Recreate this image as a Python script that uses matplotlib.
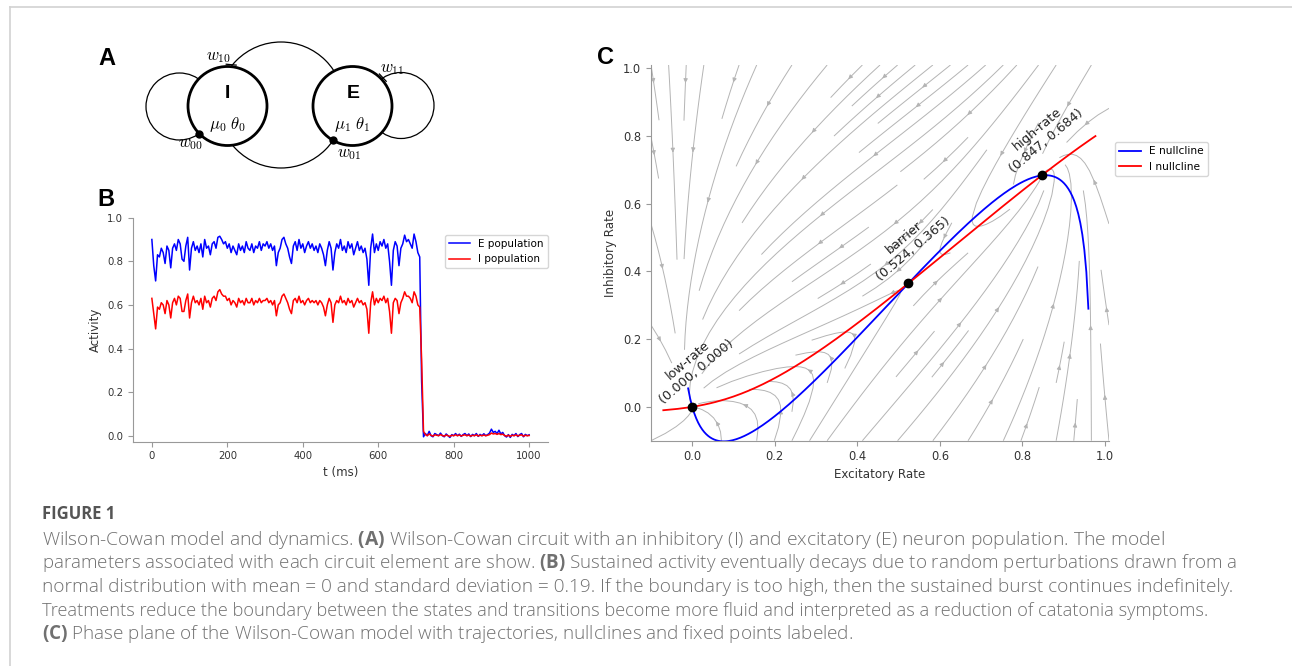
import numpy as np
import matplotlib
matplotlib.use('Agg')
import matplotlib.pyplot as plt
from matplotlib.patches import Circle
from matplotlib.lines import Line2D

W, H = 1292, 666

# ---- panel B: simulated activity (5 ms steps) ----
t_ms = np.arange(0, 1001, 5)
e_pop = [0.90, 0.78, 0.71, 0.83, 0.82, 0.86, 0.84, 0.79, 0.87, 0.85,
         0.77, 0.86, 0.88, 0.85, 0.90, 0.88, 0.81, 0.80, 0.87, 0.91,
         0.76, 0.86, 0.89, 0.85, 0.87, 0.84, 0.88, 0.82, 0.90, 0.86,
         0.87, 0.83, 0.88, 0.89, 0.86, 0.91, 0.915, 0.90, 0.88, 0.89,
         0.86, 0.88, 0.84, 0.87, 0.85, 0.83, 0.88, 0.85, 0.87, 0.84,
         0.89, 0.86, 0.85, 0.88, 0.84, 0.87, 0.86, 0.89, 0.85, 0.88,
         0.87, 0.89, 0.86, 0.88, 0.85, 0.87, 0.78, 0.84, 0.86, 0.90,
         0.91, 0.88, 0.86, 0.82, 0.79, 0.87, 0.89, 0.85, 0.90, 0.86,
         0.88, 0.84, 0.87, 0.89, 0.86, 0.88, 0.85, 0.87, 0.84, 0.88,
         0.86, 0.83, 0.78, 0.85, 0.89, 0.86, 0.76, 0.84, 0.88, 0.86,
         0.90, 0.85, 0.87, 0.84, 0.89, 0.86, 0.88, 0.83, 0.86, 0.89,
         0.85, 0.87, 0.84, 0.86, 0.81, 0.69, 0.86, 0.925, 0.84, 0.88,
         0.85, 0.89, 0.87, 0.90, 0.86, 0.88, 0.80, 0.69, 0.85, 0.89,
         0.87, 0.78, 0.86, 0.88, 0.92, 0.89, 0.90, 0.88, 0.86, 0.925,
         0.89, 0.84, 0.82,
         0.25, -0.005,
         0.010, 0.000, 0.020, 0.000, -0.005, 0.010, 0.005, 0.000, 0.012, 0.000,
         -0.005, 0.008, 0.000, -0.008, 0.005, 0.000, 0.010, 0.000, 0.007, -0.003,
         0.005, 0.010, 0.000, 0.008, -0.004, 0.006, 0.000, 0.010, -0.003, 0.006,
         0.000, 0.009, 0.000, 0.005, 0.012, 0.030, 0.015, 0.020, 0.010, 0.025,
         0.008, 0.015, 0.000, -0.006, 0.005, -0.008, 0.006, 0.000, 0.010, -0.004,
         0.005, 0.010, -0.005, 0.006, 0.000, 0.004]
i_pop = [0.63, 0.56, 0.49, 0.59, 0.58, 0.61, 0.60, 0.56, 0.62, 0.60,
         0.54, 0.61, 0.63, 0.60, 0.64, 0.63, 0.57, 0.57, 0.62, 0.65,
         0.54, 0.61, 0.64, 0.61, 0.62, 0.60, 0.63, 0.58, 0.64, 0.61,
         0.62, 0.59, 0.63, 0.64, 0.62, 0.66, 0.67, 0.65, 0.64, 0.64,
         0.62, 0.63, 0.60, 0.62, 0.61, 0.59, 0.63, 0.61, 0.62, 0.60,
         0.63, 0.61, 0.61, 0.63, 0.60, 0.62, 0.61, 0.63, 0.61, 0.62,
         0.62, 0.63, 0.61, 0.62, 0.60, 0.62, 0.55, 0.60, 0.61, 0.64,
         0.65, 0.63, 0.61, 0.58, 0.56, 0.62, 0.63, 0.61, 0.64, 0.61,
         0.62, 0.60, 0.62, 0.63, 0.61, 0.62, 0.61, 0.62, 0.60, 0.62,
         0.61, 0.59, 0.55, 0.60, 0.63, 0.61, 0.52, 0.60, 0.62, 0.61,
         0.64, 0.61, 0.62, 0.60, 0.63, 0.61, 0.62, 0.59, 0.61, 0.63,
         0.61, 0.62, 0.60, 0.61, 0.58, 0.47, 0.61, 0.66, 0.60, 0.63,
         0.61, 0.63, 0.62, 0.64, 0.61, 0.63, 0.57, 0.47, 0.61, 0.63,
         0.62, 0.56, 0.61, 0.63, 0.66, 0.64, 0.64, 0.63, 0.61, 0.66,
         0.64, 0.60, 0.59,
         0.35, 0.02,
         0.005, 0.000, 0.008, 0.002, -0.002, 0.004, 0.002, 0.000, 0.005, 0.001,
         -0.002, 0.003, 0.000, -0.003, 0.002, 0.000, 0.004, 0.000, 0.003, -0.001,
         0.002, 0.004, 0.000, 0.003, -0.002, 0.002, 0.000, 0.004, -0.001, 0.002,
         0.000, 0.003, 0.000, 0.002, 0.005, 0.012, 0.008, 0.010, 0.006, 0.010,
         0.005, 0.007, 0.001, -0.002, 0.002, -0.003, 0.002, 0.000, 0.004, -0.001,
         0.002, 0.004, -0.002, 0.002, 0.000, 0.001]

# ---- panel C: Wilson-Cowan parameters (fitted to the nullclines in the figure) ----
tau_E, a_E, theta_E = 1.0, 1.2, 2.8
tau_I, a_I, theta_I = 2.0, 1.0, 4.0
wEE, wEI, wIE, wII = 8.5, 4.0, 13.0, 9.0

fp_names = ['low-rate', 'barrier', 'high-rate']
fp_E = [0.0, 0.524, 0.847]
fp_I = [0.0, 0.365, 0.684]

caption_title = 'FIGURE 1'
caption_lines = [
    r'Wilson-Cowan model and dynamics. $\mathbf{(A)}$ Wilson-Cowan circuit with an inhibitory (I) and excitatory (E) neuron population. The model',
    r'parameters associated with each circuit element are show. $\mathbf{(B)}$ Sustained activity eventually decays due to random perturbations drawn from a',
    'normal distribution with mean = 0 and standard deviation = 0.19. If the boundary is too high, then the sustained burst continues indefinitely.',
    'Treatments reduce the boundary between the states and transitions become more fluid and interpreted as a reduction of catatonia symptoms.',
    r'$\mathbf{(C)}$ Phase plane of the Wilson-Cowan model with trajectories, nullclines and fixed points labeled.',
]


def F(x, a, theta):
    return 1 / (1 + np.exp(-a * (x - theta))) - 1 / (1 + np.exp(a * theta))


def F_inv(x, a, theta):
    return -1 / a * np.log(1 / (x + 1 / (1 + np.exp(a * theta))) - 1) + theta


def circle_cross(c1, r1, c2, r2):
    # the two intersection points of two circles
    c1, c2 = np.array(c1, float), np.array(c2, float)
    d = np.linalg.norm(c2 - c1)
    a = (d ** 2 + r1 ** 2 - r2 ** 2) / (2 * d)
    h = np.sqrt(r1 ** 2 - a ** 2)
    u = (c2 - c1) / d
    p = c1 + a * u
    n = np.array([-u[1], u[0]])
    return p + h * n, p - h * n


plt.rcParams['mathtext.fontset'] = 'custom'
plt.rcParams['mathtext.rm'] = 'Open Sans'
plt.rcParams['mathtext.bf'] = 'Open Sans:bold'
plt.rcParams['mathtext.it'] = 'Open Sans:italic'

fig = plt.figure(figsize=(W / 100, H / 100), dpi=100)

# frame lines of the page
fig.add_artist(Line2D([10 / W, 1], [1 - 7 / H, 1 - 7 / H], color='#d2d2d2', lw=1.2))
fig.add_artist(Line2D([10 / W, 10 / W], [0, 1 - 7 / H], color='#d2d2d2', lw=1.2))

# panel letters
for letter, x, y in [('A', 98, 65), ('B', 97, 206), ('C', 597, 64)]:
    fig.text(x / W, 1 - y / H, letter, fontsize=17, fontweight='bold',
             family='Liberation Sans', ha='left', va='baseline')

# ---------------- panel A: circuit diagram (pixel coordinates) ----------------
ax_a = fig.add_axes([130 / W, 1 - 180 / H, 330 / W, 150 / H])
ax_a.set_xlim(130, 460)
ax_a.set_ylim(180, 30)
ax_a.axis('off')

I_c, E_c, R = (227.5, 106), (352.5, 106), 39.5
loopI_c, loopI_r = (179.5, 106.5), 33.5
loopE_c, loopE_r = (401, 105.5), 33
arc_c, arc_r = (281, 105), 63

for c, r in [(loopI_c, loopI_r), (loopE_c, loopE_r), (arc_c, arc_r)]:
    ax_a.add_patch(Circle(c, r, fill=False, ec='black', lw=0.9, zorder=1))
for c in [I_c, E_c]:
    ax_a.add_patch(Circle(c, R, fc='white', ec='black', lw=2.0, zorder=2))

# dots (w00 on I, w01 on E)
p1, p2 = circle_cross(I_c, R, loopI_c, loopI_r)
dot00 = p1 if p1[1] > p2[1] else p2
p1, p2 = circle_cross(E_c, R, arc_c, arc_r)
dot01 = p1 if p1[1] > p2[1] else p2
for p in [dot00, dot01]:
    ax_a.plot(p[0], p[1], 'o', color='black', ms=5, zorder=3)

# bars (w10 on I, w11 on E)
p1, p2 = circle_cross(I_c, R, arc_c, arc_r)
bar10 = p1 if p1[1] < p2[1] else p2
p1, p2 = circle_cross(E_c, R, loopE_c, loopE_r)
bar11 = p1 if p1[1] < p2[1] else p2
for p, c in [(bar10, I_c), (bar11, E_c)]:
    rad = (p - np.array(c)) / np.linalg.norm(p - np.array(c))
    tan = np.array([-rad[1], rad[0]])
    q = p + rad * 2
    ax_a.plot([q[0] - 5 * tan[0], q[0] + 5 * tan[0]],
              [q[1] - 5 * tan[1], q[1] + 5 * tan[1]], color='black', lw=0.9, zorder=3)

ax_a.text(227.5, 94, 'I', fontsize=14, fontweight='bold', family='Liberation Sans',
          ha='center', va='center', zorder=4)
ax_a.text(353, 94, 'E', fontsize=14, fontweight='bold', family='Liberation Sans',
          ha='center', va='center', zorder=4)
ax_a.text(228, 124, r'$\mu_0\ \theta_0$', fontsize=12, math_fontfamily='cm',
          ha='center', va='center', zorder=4)
ax_a.text(352, 124, r'$\mu_1\ \theta_1$', fontsize=12, math_fontfamily='cm',
          ha='center', va='center', zorder=4)
for lab, x, y in [(r'$w_{10}$', 219, 56), (r'$w_{11}$', 392, 68),
                  (r'$w_{00}$', 191, 143), (r'$w_{01}$', 349, 153)]:
    ax_a.text(x, y, lab, fontsize=12, math_fontfamily='cm', ha='center', va='center', zorder=4)

# ---------------- panel B: activity traces ----------------
ax_b = fig.add_axes([133 / W, 1 - 441.7 / H, 415 / W, 224 / H])
ax_b.plot(t_ms, e_pop, color='blue', lw=1.1, label='E population')
ax_b.plot(t_ms, i_pop, color='red', lw=1.1, label='I population')
ax_b.set_xlim(-50, 1050)
ax_b.set_ylim(-0.0275, 1.0)
ax_b.set_xticks([0, 200, 400, 600, 800, 1000])
ax_b.set_yticks([0.0, 0.2, 0.4, 0.6, 0.8, 1.0])
ax_b.set_xlabel('t (ms)', fontsize=8.5, color='#333333', labelpad=3)
ax_b.set_ylabel('Activity', fontsize=8.5, color='#333333', labelpad=4)
ax_b.legend(loc='upper right', bbox_to_anchor=(1.0, 0.923), borderaxespad=0, fontsize=7.5)

# ---------------- panel C: phase plane ----------------
ax_c = fig.add_axes([651 / W, 1 - 440.7 / H, 458 / W, 375.7 / H])
grid = np.linspace(-0.1, 1.01, 90)
EE, II = np.meshgrid(grid, grid)
dE = (-EE + F(wEE * EE - wEI * II, a_E, theta_E)) / tau_E
dI = (-II + F(wIE * EE - wII * II, a_I, theta_I)) / tau_I
ax_c.streamplot(EE, II, dE, dI, color='#b4b4b4', linewidth=0.7, arrowsize=0.6,
                density=0.9, zorder=1)

e_null_E = np.linspace(-0.01, 0.96, 200)
e_null_I = (wEE * e_null_E - F_inv(e_null_E, a_E, theta_E)) / wEI
i_null_I = np.linspace(-0.01, 0.8, 200)
i_null_E = (wII * i_null_I + F_inv(i_null_I, a_I, theta_I)) / wIE
ax_c.plot(e_null_E, e_null_I, color='blue', lw=1.3, label='E nullcline', zorder=2)
ax_c.plot(i_null_E, i_null_I, color='red', lw=1.3, label='I nullcline', zorder=2)
ax_c.plot(fp_E, fp_I, 'o', color='black', ms=6, zorder=3)
for name, x, y in zip(fp_names, fp_E, fp_I):
    ax_c.text(x, y, '%s\n(%.3f, %.3f)' % (name, x, y), rotation=40, fontsize=9.3,
              ha='center', va='bottom', color='#222222', zorder=4)
ax_c.set_xlim(-0.1, 1.01)
ax_c.set_ylim(-0.1, 1.01)
ax_c.set_xticks([0.0, 0.2, 0.4, 0.6, 0.8, 1.0])
ax_c.set_yticks([0.0, 0.2, 0.4, 0.6, 0.8, 1.0])
ax_c.set_xlabel('Excitatory Rate', fontsize=8.6, color='#333333', labelpad=3)
ax_c.set_ylabel('Inhibitory Rate', fontsize=8.6, color='#333333', labelpad=4)
ax_c.legend(loc='upper left', bbox_to_anchor=(1.013, 0.795), borderaxespad=0, fontsize=7.7)

for ax, fs in [(ax_b, 7.3), (ax_c, 8.3)]:
    for side in ['top', 'right']:
        ax.spines[side].set_visible(False)
    for side in ['left', 'bottom']:
        ax.spines[side].set_color('#999999')
    ax.tick_params(colors='#999999', labelcolor='#333333', labelsize=fs, length=3.5, width=0.8)

# ---------------- caption ----------------
fig.text(42 / W, 1 - 519 / H, caption_title, fontsize=12, fontweight='bold',
         family='Open Sans', color='#555555', ha='left', va='baseline')
line_base = [545, 568.5, 592, 615.5, 639]
line_right = [1170, 1243, 1240, 1218, 854]
renderer = fig.canvas.get_renderer()
for txt, yb, xr in zip(caption_lines, line_base, line_right):
    t = fig.text(42 / W, 1 - yb / H, txt, fontsize=10.5, family='Open Sans', fontweight='light',
                 color='#707070', ha='left', va='baseline')
    wpx = t.get_window_extent(renderer=renderer).width
    t.set_fontsize(10.5 * (xr - 42) / wpx)

fig.savefig('out.png', dpi=100)
